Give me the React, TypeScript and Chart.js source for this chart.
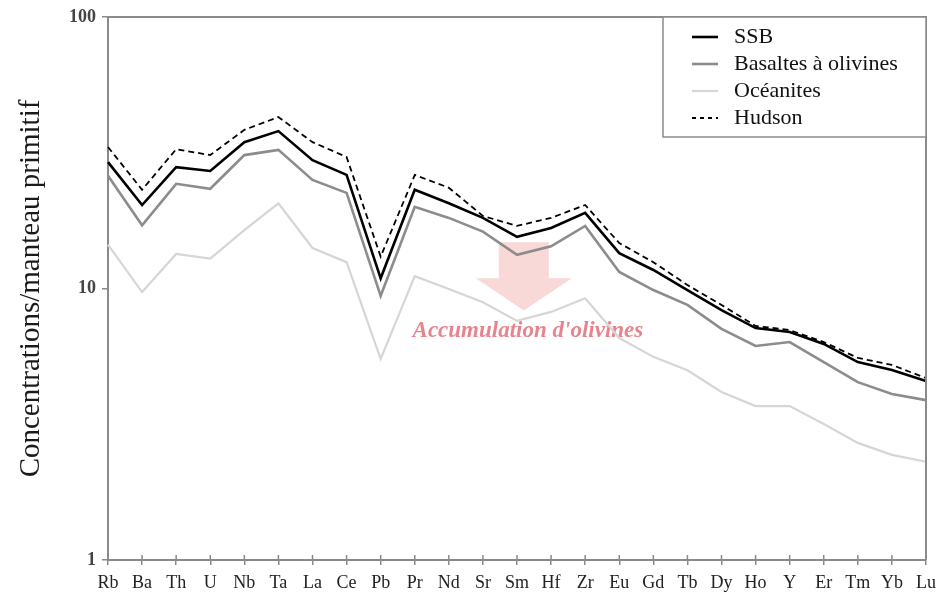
import React, { useEffect, useRef } from 'react';
import { Chart, registerables } from 'chart.js';

Chart.register(...registerables);

const elements = ['Rb', 'Ba', 'Th', 'U', 'Nb', 'Ta', 'La', 'Ce', 'Pb', 'Pr', 'Nd', 'Sr', 'Sm', 'Hf', 'Zr', 'Eu', 'Gd', 'Tb', 'Dy', 'Ho', 'Y', 'Er', 'Tm', 'Yb', 'Lu'];
const ssb = [29.2, 20.3, 28.0, 27.1, 34.6, 38.0, 29.7, 26.2, 10.9, 23.1, 20.6, 18.2, 15.5, 16.7, 19.0, 13.5, 11.7, 9.87, 8.33, 7.15, 6.92, 6.25, 5.36, 5.01, 4.56];
const basaltes = [26.0, 17.1, 24.3, 23.3, 31.0, 32.4, 25.1, 22.5, 9.4, 20.0, 18.2, 16.2, 13.3, 14.3, 17.0, 11.5, 9.87, 8.7, 7.1, 6.14, 6.35, 5.36, 4.52, 4.09, 3.88];
const oceanites = [14.5, 9.7, 13.4, 12.9, 16.4, 20.6, 14.1, 12.5, 5.5, 11.1, 9.96, 8.9, 7.6, 8.2, 9.2, 6.57, 5.6, 5.0, 4.16, 3.69, 3.69, 3.17, 2.7, 2.44, 2.3];
const hudson = [33.2, 23.1, 32.6, 31.0, 38.4, 42.8, 34.6, 30.5, 13.1, 26.2, 23.5, 18.5, 17.0, 18.2, 20.3, 14.7, 12.5, 10.3, 8.7, 7.28, 7.03, 6.35, 5.55, 5.23, 4.68];
const yTicks = [1, 10, 100];
const legendLabels = ['SSB', 'Basaltes à olivines', 'Océanites', 'Hudson'];
const yTitle = 'Concentrations/manteau primitif';
const annotationText = "Accumulation d'olivines";
// annotation anchor (category index, values)
const arrowIndex = 12.2;
const arrowTop = 14.8;
const arrowHeadBase = 10.9;
const arrowTip = 8.3;
const textIndex = 12.32;
const textValue = 6.63;

const SERIF = '"Liberation Serif", "DejaVu Serif", serif';
const AXIS = '#8a8a8a';

const styles = [
  { color: '#000000', width: 2.6, dash: [] as number[] },
  { color: '#8c8c8c', width: 2.6, dash: [] as number[] },
  { color: '#d6d6d6', width: 2.2, dash: [] as number[] },
  { color: '#000000', width: 1.8, dash: [6, 4] },
];

const decorPlugin = {
  id: 'decor',
  beforeDatasetsDraw(chart: any) {
    const { ctx } = chart;
    const xs = chart.scales.x;
    const ys = chart.scales.y;
    const cx = xs.getPixelForValue(arrowIndex);
    const yTop = ys.getPixelForValue(arrowTop);
    const yBase = ys.getPixelForValue(arrowHeadBase);
    const yTip = ys.getPixelForValue(arrowTip);
    ctx.save();
    ctx.fillStyle = '#f9d8d8';
    ctx.beginPath();
    ctx.moveTo(cx - 25, yTop);
    ctx.lineTo(cx + 25, yTop);
    ctx.lineTo(cx + 25, yBase);
    ctx.lineTo(cx + 48, yBase);
    ctx.lineTo(cx, yTip);
    ctx.lineTo(cx - 48, yBase);
    ctx.lineTo(cx - 25, yBase);
    ctx.closePath();
    ctx.fill();
    ctx.font = `bold italic 23px ${SERIF}`;
    ctx.fillStyle = '#e8848f';
    ctx.textAlign = 'center';
    ctx.textBaseline = 'alphabetic';
    ctx.fillText(annotationText, xs.getPixelForValue(textIndex), ys.getPixelForValue(textValue));
    ctx.restore();
  },
  afterDraw(chart: any) {
    const { ctx, chartArea } = chart;
    const { left, right, top, bottom } = chartArea;
    const xs = chart.scales.x;
    ctx.save();
    ctx.strokeStyle = AXIS;
    ctx.lineWidth = 2;
    ctx.beginPath();
    ctx.moveTo(left, top);
    ctx.lineTo(right, top);
    ctx.lineTo(right, bottom);
    ctx.stroke();
    // inner tick marks on x axis
    ctx.lineWidth = 1.5;
    ctx.beginPath();
    for (let i = 0; i < elements.length; i++) {
      const x = xs.getPixelForTick(i);
      ctx.moveTo(x, bottom);
      ctx.lineTo(x, bottom - 5);
    }
    ctx.stroke();
    // legend box
    const bx = right - 263;
    const by = top;
    const bw = 263;
    const bh = 120;
    ctx.fillStyle = '#ffffff';
    ctx.fillRect(bx, by, bw, bh);
    ctx.strokeStyle = AXIS;
    ctx.lineWidth = 1.5;
    ctx.strokeRect(bx, by, bw, bh);
    ctx.font = `22px ${SERIF}`;
    ctx.textAlign = 'left';
    ctx.textBaseline = 'middle';
    legendLabels.forEach((label, i) => {
      const y = by + 20 + i * 27;
      const s = styles[i];
      ctx.strokeStyle = s.color;
      ctx.lineWidth = s.width;
      ctx.setLineDash(s.dash.length ? [4, 4] : []);
      ctx.beginPath();
      ctx.moveTo(bx + 29, y);
      ctx.lineTo(bx + 55, y);
      ctx.stroke();
      ctx.setLineDash([]);
      ctx.fillStyle = '#111';
      ctx.fillText(label, bx + 71, y);
    });
    ctx.restore();
  },
};

export default function App() {
  const ref = useRef<HTMLCanvasElement | null>(null);
  useEffect(() => {
    if (!ref.current) return;
    const series = [ssb, basaltes, oceanites, hudson];
    const orders = [0, 2, 3, 1];
    const chart = new Chart(ref.current, {
      type: 'line',
      data: {
        labels: elements,
        datasets: series.map((d, i) => ({
          label: legendLabels[i],
          data: d,
          borderColor: styles[i].color,
          borderWidth: styles[i].width,
          borderDash: styles[i].dash,
          pointRadius: 0,
          tension: 0,
          fill: false,
          order: orders[i],
        })),
      },
      options: {
        responsive: false,
        animation: false,
        layout: { padding: { left: 0, top: 17, right: 15, bottom: 0 } },
        plugins: { legend: { display: false }, tooltip: { enabled: false } },
        scales: {
          x: {
            type: 'category',
            offset: false,
            grid: { drawOnChartArea: false, drawTicks: true, tickLength: 5, color: AXIS, lineWidth: 1.5 },
            border: { display: true, color: AXIS, width: 2 },
            ticks: { color: '#222', font: { family: SERIF, size: 18 }, padding: 7, autoSkip: false, maxRotation: 0 },
            afterFit: (s: any) => { s.height = 36; s.paddingRight = 0; s.paddingLeft = 0; },
          },
          y: {
            type: 'logarithmic',
            min: 1,
            max: 100,
            afterBuildTicks: (s: any) => { s.ticks = yTicks.map((v) => ({ value: v })); },
            grid: { drawOnChartArea: false, drawTicks: true, tickLength: 6, color: AXIS, lineWidth: 1.5 },
            border: { display: true, color: AXIS, width: 2 },
            ticks: { color: '#444', font: { family: SERIF, size: 18, weight: 'bold' }, padding: 6, callback: (v: any) => String(v) },
            title: { display: true, text: yTitle, color: '#1a1a1a', font: { family: SERIF, size: 29 }, padding: { top: 14, bottom: 0 } },
            afterFit: (s: any) => { s.width = 108; },
          },
        },
      },
      plugins: [decorPlugin],
    });
    return () => chart.destroy();
  }, []);
  return (
    <div style={{ position: 'absolute', left: 0, top: 0, width: 941, height: 596, background: '#fff' }}>
      <canvas ref={ref} width={941} height={596} />
    </div>
  );
}
